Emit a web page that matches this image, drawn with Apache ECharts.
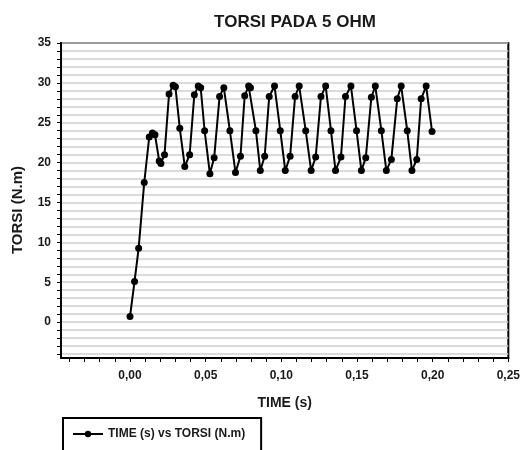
<!DOCTYPE html>
<html>
<head>
<meta charset="utf-8">
<script src="https://cdn.jsdelivr.net/npm/echarts@6/dist/echarts.min.js"></script>
<style>html,body{margin:0;padding:0;background:#fff;}#c{width:523px;height:450px;}</style>
</head>
<body>
<div id="c"></div>
<script>
var timeValues = [0.0, 0.003, 0.0057, 0.0094, 0.0127, 0.0148, 0.0165, 0.0193, 0.0204, 0.0228, 0.0258, 0.0285, 0.030, 0.0329, 0.0362, 0.0394, 0.0425, 0.0451, 0.0467, 0.0493, 0.0528, 0.0556, 0.0592, 0.062, 0.066, 0.0697, 0.073, 0.0758, 0.0784, 0.0796, 0.0832, 0.0861, 0.089, 0.092, 0.0955, 0.0993, 0.1026, 0.1058, 0.1091, 0.1118, 0.1161, 0.1197, 0.1227, 0.1262, 0.1293, 0.1328, 0.1358, 0.1394, 0.1424, 0.146, 0.1497, 0.1529, 0.1558, 0.1595, 0.1621, 0.1661, 0.1694, 0.1727, 0.1766, 0.1792, 0.1832, 0.1863, 0.1895, 0.1924, 0.1957, 0.1996];
var torsiValues = [0.7, 5.1, 9.25, 17.5, 23.2, 23.7, 23.5, 20.2, 19.9, 21.0, 28.6, 29.7, 29.5, 24.3, 19.5, 21.0, 28.5, 29.6, 29.4, 24.0, 18.6, 20.6, 28.3, 29.4, 24.0, 18.75, 20.8, 28.4, 29.6, 29.4, 24.0, 19.0, 20.8, 28.3, 29.6, 24.0, 19.0, 20.8, 28.3, 29.6, 24.0, 19.0, 20.7, 28.3, 29.6, 24.0, 19.0, 20.7, 28.3, 29.6, 24.0, 19.0, 20.6, 28.2, 29.6, 24.0, 19.0, 20.4, 28.0, 29.6, 24.0, 19.0, 20.4, 28.0, 29.6, 23.9];
var xLabelValues = [0, 0.05, 0.10, 0.15, 0.20, 0.25];
var xTickValues = [-0.04, -0.03, -0.02, -0.01, 0, 0.01, 0.02, 0.03, 0.04, 0.05, 0.06, 0.07, 0.08, 0.09, 0.10, 0.11, 0.12, 0.13, 0.14, 0.15, 0.16, 0.17, 0.18, 0.19, 0.20, 0.21, 0.22, 0.23, 0.24, 0.25];
var yLabelValues = [0, 5, 10, 15, 20, 25, 30, 35];
var yTickValues = [-4, -3, -2, -1, 0, 1, 2, 3, 4, 5, 6, 7, 8, 9, 10, 11, 12, 13, 14, 15, 16, 17, 18, 19, 20, 21, 22, 23, 24, 25, 26, 27, 28, 29, 30, 31, 32, 33, 34, 35];
var seriesName = 'TIME (s) vs TORSI (N.m)';

var data = timeValues.map(function (t, i) { return [t, torsiValues[i]]; });
var font = 'Liberation Sans, Arial, sans-serif';
var chart = echarts.init(document.getElementById('c'), null, {renderer: 'canvas'});
chart.setOption({
  backgroundColor: '#fff',
  animation: false,
  title: {
    text: 'TORSI PADA 5 OHM',
    left: 290, top: 9, textAlign: 'center',
    textStyle: {fontFamily: font, fontSize: 17, fontWeight: 'bold', color: '#1a1a1a'}
  },
  grid: {left: 61, right: 12, top: 43, bottom: 92, show: true, borderColor: '#000', borderWidth: 2, backgroundColor: 'transparent'},
  legend: {
    left: 63, top: 418,
    data: [seriesName],
    borderColor: '#000', borderWidth: 2, borderRadius: 0,
    padding: [10, 16, 22, 9],
    itemWidth: 30, itemHeight: 8, itemGap: 5,
    textStyle: {fontFamily: font, fontSize: 12, fontWeight: 'bold', color: '#1a1a1a'}
  },
  xAxis: {
    type: 'value', min: -0.0456, max: 0.25,
    name: 'TIME (s)', nameLocation: 'middle', nameGap: 38,
    nameTextStyle: {fontFamily: font, fontSize: 14, fontWeight: 'bold', color: '#1a1a1a'},
    axisLine: {show: true, onZero: false, lineStyle: {color: '#000', width: 2}},
    axisTick: {show: true, customValues: xTickValues, length: 4, lineStyle: {color: '#000', width: 1}},
    axisLabel: {customValues: xLabelValues, margin: 12, fontFamily: font, fontSize: 12, fontWeight: 'bold', color: '#1a1a1a',
      formatter: function (v) { return v.toFixed(2).replace('.', ','); }},
    splitLine: {show: false}
  },
  yAxis: {
    type: 'value', min: -4.5, max: 35,
    axisLine: {show: true, onZero: false, lineStyle: {color: '#000', width: 2}},
    axisTick: {show: true, customValues: yTickValues, length: 4, lineStyle: {color: '#000', width: 1}},
    axisLabel: {customValues: yLabelValues, margin: 10, fontFamily: font, fontSize: 12, fontWeight: 'bold', color: '#1a1a1a'},
    splitLine: {show: true, lineStyle: {color: '#cfcfcf', width: 1.5}}
  },
  graphic: [{
    type: 'text', x: 18, y: 210, rotation: Math.PI / 2,
    style: {text: 'TORSI (N.m)', fontFamily: font, fontSize: 15, fontWeight: 'bold', fill: '#1a1a1a', align: 'center', verticalAlign: 'middle'}
  }],
  series: [{
    name: seriesName, type: 'line', data: data,
    symbol: 'circle', symbolSize: 7,
    lineStyle: {color: '#000', width: 2},
    itemStyle: {color: '#000'}
  }]
});
</script>
</body>
</html>
